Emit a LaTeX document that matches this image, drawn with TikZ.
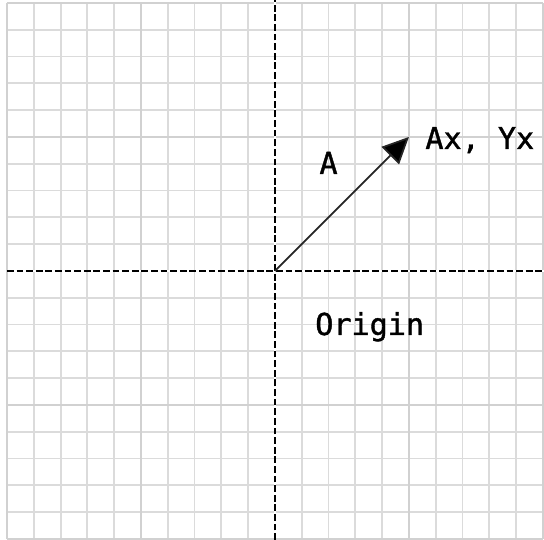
\documentclass[tikz,border=0pt]{standalone}
\usepackage{fontspec}
\setmonofont{DejaVu Sans Mono}[BoldFont=DejaVu Sans Mono, BoldFeatures={FakeBold=1.3}]
\usetikzlibrary{arrows.meta}

\tikzset{
  gridline/.style={line width=1pt, gray!28},
  gridmajor/.style={line width=1pt, gray!36},
  axisline/.style={line width=0.8pt, black, dash pattern=on 3.6pt off 1.5pt},
  vecline/.style={line width=0.9pt, black!85, -{Triangle[length=14pt, width=13pt, fill=black]}},
  lbl/.style={inner sep=0pt, font=\ttfamily\bfseries\fontsize{16}{19}\selectfont}
}

\begin{document}
\begin{tikzpicture}[x=0.5cm, y=0.5cm]
\useasboundingbox (-10.26,-10.04) rectangle (10.04,10.11);

% grid
\foreach \i in {-10,...,10}
{
  \draw[gridline] (\i,-10) -- (\i,10);
  \draw[gridline] (-10,\i) -- (10,\i);
}
\foreach \i in {-10,-5,5,10}
{
  \draw[gridmajor] (\i,-10) -- (\i,10);
  \draw[gridmajor] (-10,\i) -- (10,\i);
}

% axes
\coordinate (O) at (0,0);
\coordinate (xl) at (-10,0);
\coordinate (xr) at (10.04,0);
\coordinate (yb) at (0,-10.04);
\coordinate (yt) at (0,10.11);
\draw[white, line width=1pt] (xl) -- (xr);
\draw[white, line width=1pt] (yb) -- (yt);
\draw[axisline] (xl) -- (xr);
\draw[axisline] (yb) -- (yt);

% vector
\coordinate (P) at (5,5);
\draw[vecline] (O) -- (P);

\node[lbl, anchor=base] (nameA) at (2,3.62) {A};
\node[lbl, anchor=base west] (tipA) at (5.6,4.55) {Ax, Yx};
\node[lbl, anchor=base west] (orig) at (1.49,-2.39) {Origin};
\end{tikzpicture}
\end{document}
